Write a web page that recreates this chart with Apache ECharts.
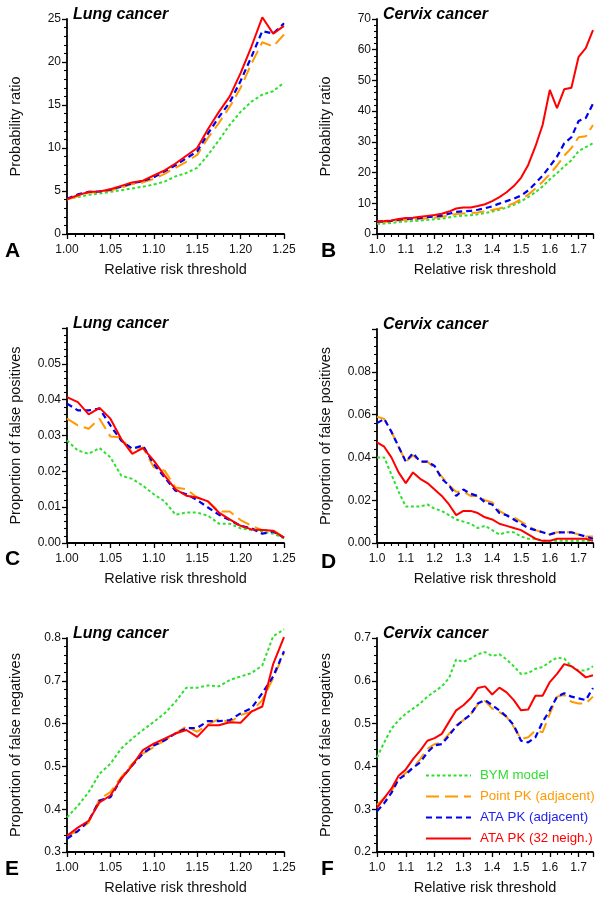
<!DOCTYPE html>
<html><head><meta charset="utf-8">
<script src="https://cdn.jsdelivr.net/npm/echarts@6/dist/echarts.min.js"></script>
<style>html,body{margin:0;padding:0;background:#fff}#c{width:600px;height:897px}</style>
</head><body><div id="c"></div>
<script>
// X values (relative risk thresholds)
const lungX = [1.0,1.0125,1.025,1.0375,1.05,1.0625,1.075,1.0875,1.1,1.1125,1.125,1.1375,1.15,1.1625,1.175,1.1875,1.2,1.2125,1.225,1.2375,1.25];
const cervixX = [1.0,1.025,1.05,1.075,1.1,1.125,1.15,1.175,1.2,1.225,1.25,1.275,1.3,1.325,1.35,1.375,1.4,1.425,1.45,1.475,1.5,1.525,1.55,1.575,1.6,1.625,1.65,1.675,1.7,1.725,1.75];

const seriesNames = ['BYM model','Point PK (adjacent)','ATA PK (adjacent)','ATA PK (32 neigh.)'];

// A: Lung probability ratio
const A_bym    = [4.05,4.3,4.55,4.7,4.9,5.1,5.3,5.5,5.75,6.1,6.7,7.1,7.7,9.2,10.9,12.7,14.2,15.4,16.2,16.6,17.6];
const A_point  = [4.0,4.4,4.8,4.9,5.05,5.4,5.8,6.0,6.4,7.0,7.7,8.4,9.2,11.2,12.9,14.8,17.0,19.8,22.3,21.8,23.2];
const A_ataAdj = [4.1,4.6,4.9,4.95,5.15,5.5,5.9,6.15,6.6,7.3,8.0,8.8,9.6,11.7,13.6,15.3,17.8,20.6,23.6,23.3,24.5];
const A_ata32  = [4.06,4.5,4.9,4.95,5.2,5.6,6.0,6.2,6.8,7.4,8.2,9.1,10.0,12.2,14.2,16.0,18.7,21.8,25.2,23.3,24.2];

// B: Cervix probability ratio
const B_bym    = [3.3,3.4,3.6,3.9,4.1,4.2,4.4,4.6,4.8,5.0,5.4,5.8,6.0,6.1,6.4,6.8,7.3,7.9,8.6,9.5,10.6,12.0,13.6,15.5,17.8,19.8,22.0,24.0,27.0,28.3,29.6];
const B_point  = [3.8,3.9,4.1,4.4,4.6,4.7,4.9,5.1,5.3,5.6,6.0,6.5,6.7,6.8,7.0,7.4,7.8,8.3,9.1,10.0,11.3,12.8,14.8,17.0,19.5,22.3,25.5,28.0,31.5,31.8,35.5];
const B_ataAdj = [4.0,4.1,4.3,4.7,4.9,5.0,5.2,5.5,5.7,6.0,6.6,7.2,7.4,7.5,7.9,8.4,9.0,9.9,10.7,11.5,12.5,14.2,16.5,19.0,22.0,25.2,29.5,31.5,36.8,37.8,42.4];
const B_ata32  = [4.1,4.2,4.4,4.9,5.2,5.3,5.6,5.9,6.2,6.6,7.3,8.3,8.6,8.6,9.1,9.7,10.7,12.0,13.6,15.6,18.3,22.5,28.5,35.5,46.9,41.0,47.1,47.6,57.7,60.5,66.4];

// C: Lung false positives
const C_bym    = [0.0286,0.0258,0.0249,0.0265,0.0239,0.0188,0.0179,0.016,0.0136,0.0116,0.0079,0.0085,0.0085,0.0076,0.0054,0.0054,0.0041,0.0036,0.0032,0.0026,0.0013];
const C_point  = [0.0347,0.0328,0.0319,0.0347,0.0297,0.0295,0.0253,0.0267,0.0211,0.0202,0.0155,0.015,0.0127,0.0116,0.0088,0.0088,0.0064,0.0048,0.0036,0.0036,0.0015];
const C_ataAdj = [0.0389,0.037,0.037,0.0375,0.0328,0.0286,0.0263,0.0272,0.022,0.0183,0.0146,0.0136,0.012,0.0099,0.0079,0.0064,0.0048,0.0041,0.0026,0.0032,0.0015];
const C_ata32  = [0.0407,0.0393,0.0359,0.0377,0.0347,0.029,0.0249,0.0265,0.023,0.0188,0.015,0.0132,0.0127,0.0116,0.0085,0.0066,0.0048,0.0038,0.0036,0.0034,0.0015];

// D: Cervix false positives
const D_bym    = [0.040,0.040,0.032,0.024,0.017,0.017,0.017,0.018,0.016,0.015,0.013,0.011,0.010,0.009,0.007,0.008,0.006,0.004,0.005,0.005,0.003,0.002,0.002,0.001,0.001,0.001,0.001,0.001,0.001,0.001,0.001];
const D_point  = [0.059,0.058,0.052,0.045,0.038,0.041,0.038,0.038,0.035,0.031,0.027,0.024,0.024,0.022,0.022,0.020,0.019,0.015,0.013,0.012,0.010,0.008,0.006,0.005,0.004,0.005,0.005,0.005,0.004,0.003,0.003];
const D_ataAdj = [0.056,0.058,0.052,0.045,0.038,0.042,0.038,0.038,0.036,0.030,0.027,0.022,0.025,0.023,0.022,0.019,0.018,0.014,0.013,0.011,0.009,0.007,0.006,0.005,0.004,0.005,0.005,0.005,0.004,0.003,0.002];
const D_ata32  = [0.047,0.045,0.040,0.033,0.028,0.033,0.030,0.028,0.025,0.022,0.018,0.013,0.015,0.015,0.014,0.012,0.011,0.009,0.008,0.007,0.006,0.004,0.002,0.001,0.001,0.002,0.002,0.002,0.002,0.002,0.001];

// E: Lung false negatives
const E_bym    = [0.381,0.408,0.44,0.483,0.506,0.542,0.565,0.585,0.604,0.624,0.651,0.684,0.684,0.689,0.687,0.702,0.71,0.718,0.736,0.804,0.82];
const E_point  = [0.338,0.349,0.369,0.424,0.44,0.475,0.506,0.53,0.545,0.561,0.577,0.593,0.581,0.598,0.611,0.603,0.62,0.628,0.655,0.706,0.765];
const E_ataAdj = [0.331,0.349,0.373,0.42,0.428,0.471,0.502,0.53,0.549,0.561,0.577,0.589,0.59,0.606,0.606,0.608,0.624,0.636,0.671,0.71,0.769];
const E_ata32  = [0.338,0.357,0.373,0.416,0.432,0.471,0.502,0.538,0.553,0.565,0.577,0.585,0.569,0.596,0.596,0.603,0.602,0.628,0.64,0.739,0.802];

// F: Cervix false negatives
const F_bym    = [0.421,0.456,0.488,0.508,0.523,0.535,0.547,0.563,0.575,0.587,0.606,0.65,0.644,0.652,0.662,0.667,0.658,0.662,0.65,0.634,0.616,0.618,0.628,0.632,0.644,0.654,0.652,0.634,0.624,0.624,0.634];
const F_point  = [0.31,0.326,0.342,0.37,0.385,0.397,0.417,0.441,0.452,0.456,0.476,0.496,0.508,0.521,0.545,0.553,0.535,0.527,0.516,0.492,0.464,0.468,0.484,0.48,0.523,0.563,0.567,0.551,0.547,0.547,0.563];
const F_ataAdj = [0.295,0.314,0.338,0.37,0.381,0.397,0.409,0.433,0.449,0.452,0.472,0.494,0.508,0.521,0.547,0.555,0.543,0.531,0.516,0.496,0.46,0.456,0.468,0.504,0.531,0.563,0.571,0.563,0.559,0.555,0.583];
const F_ata32  = [0.303,0.326,0.348,0.378,0.393,0.417,0.437,0.46,0.466,0.476,0.504,0.531,0.543,0.559,0.583,0.587,0.568,0.584,0.573,0.555,0.531,0.533,0.565,0.565,0.597,0.616,0.639,0.634,0.622,0.608,0.613];

// Axis ticks
const lungXTicks = {min:1.0, max:1.25, interval:0.05, minor:5, dec:2};
const cervixXTicks = {min:1.0, max:1.75, interval:0.1, minor:4, dec:1};
const yTicks = [
  {min:0, max:25, interval:5, minor:5, dec:0, showMax:true},
  {min:0, max:70, interval:10, minor:5, dec:0, showMax:true},
  {min:0, max:0.06, interval:0.01, minor:5, dec:2, showMax:false},
  {min:0, max:0.10, interval:0.02, minor:5, dec:2, showMax:false},
  {min:0.3, max:0.8, interval:0.1, minor:5, dec:1, showMax:true},
  {min:0.2, max:0.7, interval:0.1, minor:5, dec:1, showMax:true}
];
const panelTitles = ['Lung cancer','Cervix cancer','Lung cancer','Cervix cancer','Lung cancer','Cervix cancer'];
const panelLetters = ['A','B','C','D','E','F'];
const yNames = ['Probability ratio','Probability ratio','Proportion of false positives','Proportion of false positives','Proportion of false negatives','Proportion of false negatives'];
const xName = 'Relative risk threshold';

const panelData = [
  [A_bym,A_point,A_ataAdj,A_ata32],
  [B_bym,B_point,B_ataAdj,B_ata32],
  [C_bym,C_point,C_ataAdj,C_ata32],
  [D_bym,D_point,D_ataAdj,D_ata32],
  [E_bym,E_point,E_ataAdj,E_ata32],
  [F_bym,F_point,F_ataAdj,F_ata32]
];

// Layout & style
const FONT = '"Liberation Sans", Arial, Helvetica, sans-serif';
const grids = [
  {left:67, top:19, width:217, height:215},
  {left:377, top:19, width:216, height:215},
  {left:67, top:328, width:217, height:215},
  {left:377, top:329, width:216, height:214},
  {left:67, top:638, width:217, height:214},
  {left:377, top:638, width:216, height:214}
];
const colors = ['#2ee02e','#ff9a00','#0000f0','#ff0000'];
const textColors = ['#33dd33','#ff9a00','#2222ee','#ff0000'];
const dashes = [[3,2.5],[13,6],[6,4],'solid'];
const widths = [2,2,2.2,2];

const axisLineStyle = {color:'#000', width:1.8};
function xAxisFor(i){
  const t = (i % 2 === 0) ? lungXTicks : cervixXTicks;
  return {
    type:'value', gridIndex:i, min:t.min, max:t.max, interval:t.interval,
    name:xName, nameLocation:'middle', nameGap:28,
    nameTextStyle:{fontFamily:FONT, fontSize:14.5, color:'#111'},
    axisLine:{show:true, onZero:false, lineStyle:axisLineStyle},
    axisTick:{show:true, inside:false, length:5, lineStyle:{color:'#000', width:1.3}},
    minorTick:{show:true, splitNumber:t.minor, length:3, lineStyle:{color:'#000', width:1.1}},
    splitLine:{show:false}, minorSplitLine:{show:false},
    axisLabel:{fontFamily:FONT, fontSize:12, color:'#111', margin:10, showMaxLabel: t.max===1.25,
      formatter:v=>Number(v).toFixed(t.dec)}
  };
}
function yAxisFor(i){
  const t = yTicks[i];
  return {
    type:'value', gridIndex:i, min:t.min, max:t.max, interval:t.interval,
    name:yNames[i], nameLocation:'middle', nameGap:44,
    nameTextStyle:{fontFamily:FONT, fontSize:14.5, color:'#111'},
    axisLine:{show:true, onZero:false, lineStyle:axisLineStyle},
    axisTick:{show:true, inside:false, length:5, lineStyle:{color:'#000', width:1.3}},
    minorTick:{show:true, splitNumber:t.minor, length:3, lineStyle:{color:'#000', width:1.1}},
    splitLine:{show:false}, minorSplitLine:{show:false},
    axisLabel:{fontFamily:FONT, fontSize:12, color:'#111', margin:6, showMaxLabel:t.showMax,
      padding:[0,0,8,0], formatter:v=>Number(v).toFixed(t.dec)}
  };
}

const series = [];
panelData.forEach((arrs, gi) => {
  const xs = (gi % 2 === 0) ? lungX : cervixX;
  arrs.forEach((vals, si) => {
    series.push({
      type:'line', name:seriesNames[si], xAxisIndex:gi, yAxisIndex:gi,
      data: xs.map((x, k) => [x, vals[k]]),
      symbol:'none', smooth:false, animation:false, z: 2 + si, clip:false,
      lineStyle:{color:colors[si], width:widths[si], type:dashes[si]},
      itemStyle:{color:colors[si]}
    });
  });
});

const titles = [];
grids.forEach((g, i) => {
  titles.push({text:panelTitles[i], left:g.left + 1, top:g.top - 17,
    textStyle:{fontFamily:FONT, fontSize:16, fontWeight:'bold', fontStyle:'italic', color:'#000'}});
});
const letterPos = [[0,236],[316,236],[0,544],[316,547],[0,854],[316,854]];
panelLetters.forEach((L, i) => {
  titles.push({text:L, left:letterPos[i][0], top:letterPos[i][1],
    textStyle:{fontFamily:FONT, fontSize:21, fontWeight:'bold', color:'#000'}});
});

const option = {
  backgroundColor:'#fff',
  animation:false,
  title: titles,
  grid: grids.map(g => Object.assign({containLabel:false, outerBoundsMode:'none'}, g)),
  xAxis: grids.map((g,i)=>xAxisFor(i)),
  yAxis: grids.map((g,i)=>yAxisFor(i)),
  legend: {
    orient:'vertical', left:420, top:764, itemWidth:45, itemHeight:14, itemGap:8,
    itemStyle:{opacity:0},
    data: seriesNames.map((n,i)=>({name:n, textStyle:{color:textColors[i]}})),
    textStyle:{fontFamily:FONT, fontSize:13.3, padding:[0,0,0,4]},
    selectedMode:false
  },
  series: series
};
const chart = echarts.init(document.getElementById('c'), null, {renderer:'canvas'});
chart.setOption(option);
</script>
</body></html>
